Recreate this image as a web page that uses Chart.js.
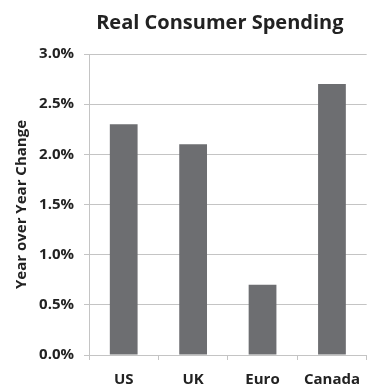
<!DOCTYPE html>
<html>
<head>
<meta charset="utf-8">
<script src="https://cdn.jsdelivr.net/npm/chart.js@4"></script>
<style>
  html, body { margin: 0; padding: 0; background: #fff; }
  #wrap { width: 371px; height: 388px; }
</style>
</head>
<body>
<div id="wrap"><canvas id="chart" width="371" height="388"></canvas></div>
<script>
// Real consumer spending, year over year change (%)
const regions = ['US', 'UK', 'Euro', 'Canada'];
const spending = [2.3, 2.1, 0.7, 2.7];
const yTicks = [0, 0.5, 1.0, 1.5, 2.0, 2.5, 3.0];
const chartTitle = 'Real Consumer Spending';

const FONT = "'Open Sans', sans-serif";
const TEXT = '#222222';
const GRID = '#c4c4c4';

// Title sits over the plot area rather than the whole canvas
const plotTitle = {
    id: 'plotTitle',
    afterDraw(chart) {
        const { ctx, chartArea } = chart;
        ctx.save();
        ctx.fillStyle = TEXT;
        ctx.font = `bold 20px ${FONT}`;
        ctx.textAlign = 'center';
        ctx.textBaseline = 'middle';
        ctx.fillText(chartTitle, (chartArea.left + chartArea.right) / 2 - 8, 23);
        ctx.restore();
    },
};

new Chart(document.getElementById('chart'), {
    type: 'bar',
    data: {
        labels: regions,
        datasets: [{
            data: spending,
            backgroundColor: '#6d6e71',
            borderWidth: 0,
            barPercentage: 0.4,
            categoryPercentage: 1.0,
        }],
    },
    plugins: [plotTitle],
    options: {
        responsive: false,
        animation: false,
        layout: { padding: { top: 54, right: 0, bottom: 0, left: 0 } },
        plugins: {
            legend: { display: false },
            tooltip: { enabled: false },
        },
        scales: {
            x: {
                grid: { drawOnChartArea: false, drawTicks: true, tickLength: 5, color: GRID },
                border: { color: GRID },
                ticks: {
                    color: TEXT,
                    font: { family: FONT, size: 15, weight: 'bold' },
                    padding: 11,
                    maxRotation: 0,
                },
                afterFit: s => { s.height = 33; },
            },
            y: {
                min: 0,
                max: 3,
                afterBuildTicks: s => { s.ticks = yTicks.map(v => ({ value: v })); },
                grid: { color: GRID, tickLength: 5 },
                border: { color: GRID },
                title: {
                    display: true,
                    text: 'Year over Year Change',
                    color: TEXT,
                    font: { family: FONT, size: 15, weight: 'bold' },
                    padding: { top: 13, bottom: 0 },
                },
                ticks: {
                    color: TEXT,
                    font: { family: FONT, size: 15, weight: 'bold' },
                    padding: 10,
                    callback: v => v.toFixed(1) + '%',
                },
                afterFit: s => { s.width = 89; },
            },
        },
    },
});
</script>
</body>
</html>
